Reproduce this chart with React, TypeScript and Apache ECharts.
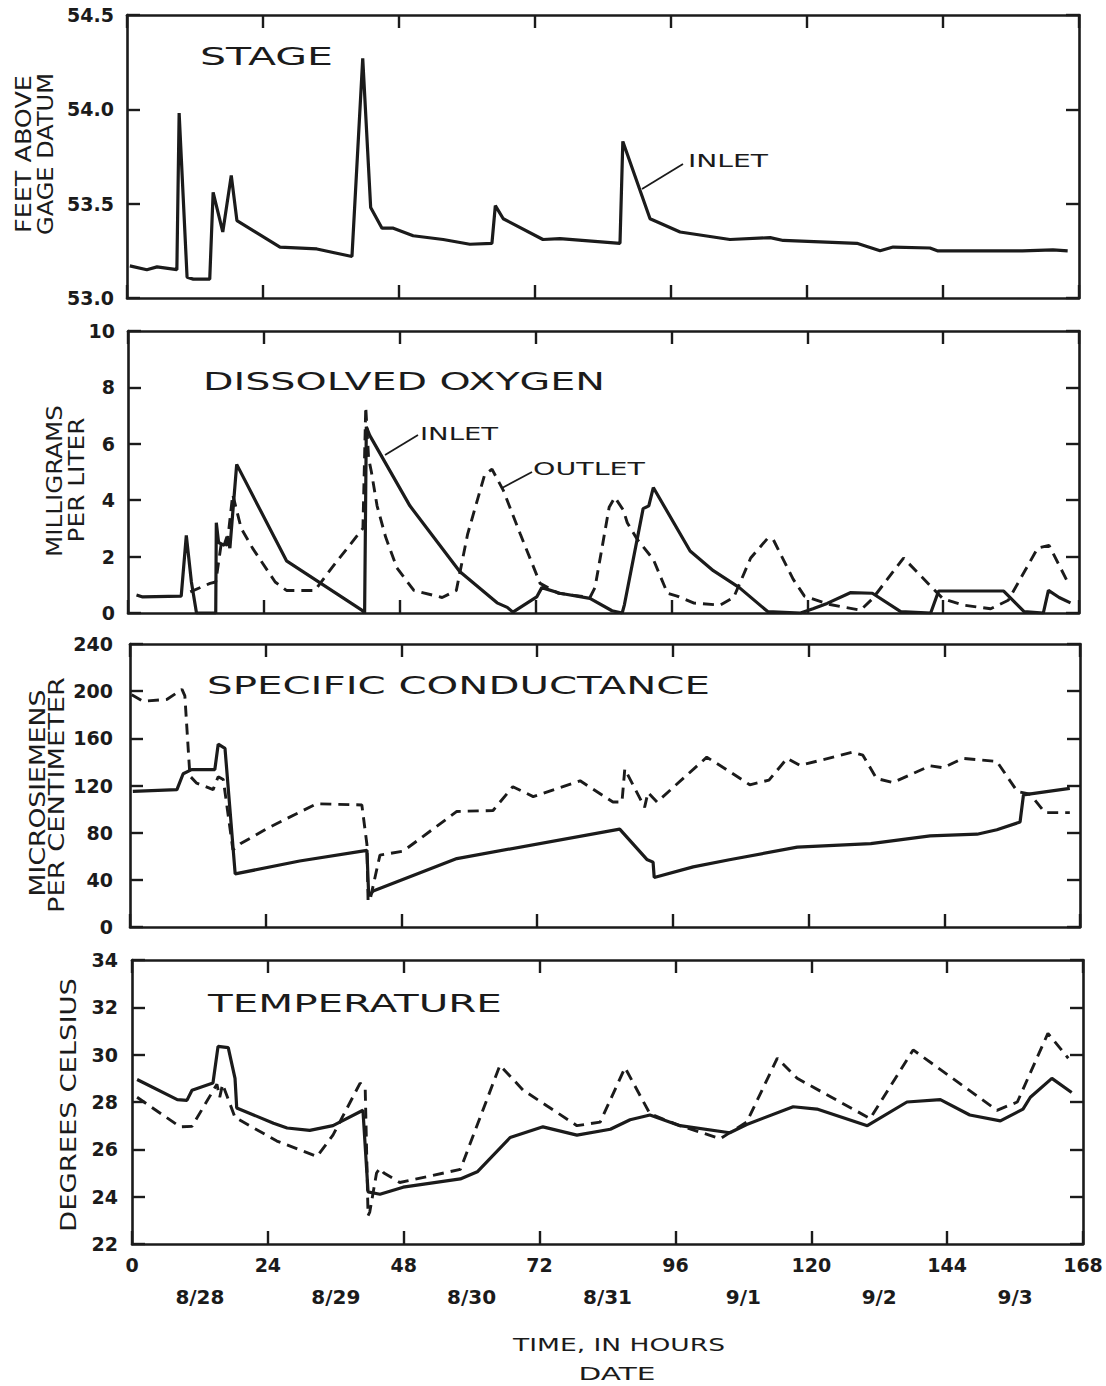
import React, { useEffect, useRef } from "react";
import * as echarts from "echarts";

// ---------- data (hours since start, value) ----------
const hourTicks = [0, 24, 48, 72, 96, 120, 144, 168];
const dateLabels = ["8/28", "8/29", "8/30", "8/31", "9/1", "9/2", "9/3"];

const stageInlet: [number, number][] = [
  [0.5, 53.17], [3.5, 53.15], [5.3, 53.165], [8.8, 53.15], [9.2, 53.98], [10.6, 53.11], [11.7, 53.1],
  [14.6, 53.1], [15.2, 53.56], [16.9, 53.35], [18.4, 53.65], [19.4, 53.41], [27, 53.27], [33.5, 53.26],
  [39.7, 53.22], [41.6, 54.27], [43, 53.48], [45, 53.37], [47, 53.37], [50.5, 53.33], [55.8, 53.31],
  [60.5, 53.285], [64.4, 53.29], [65, 53.49], [66.4, 53.42], [73.4, 53.31], [76.4, 53.315], [87, 53.29],
  [87.5, 53.83], [92.3, 53.42], [97.6, 53.35], [106.4, 53.31], [113.5, 53.32], [115.8, 53.305],
  [128.8, 53.29], [132.9, 53.25], [135.2, 53.27], [141.7, 53.265], [143, 53.25], [158, 53.25],
  [163.4, 53.255], [166, 53.25],
];

const doInlet: [number, number][] = [
  [1.5, 0.64], [2.6, 0.57], [9.4, 0.6], [10.3, 2.75], [11.2, 1.1], [12.1, 0], [15.5, 0], [15.6, 3.2],
  [16, 2.5], [17, 2.4], [17.5, 2.7], [18, 2.3], [19.2, 5.27], [28, 1.85], [41.3, 0.1], [41.8, 0],
  [42.1, 6.6], [42.7, 6.3], [49.8, 3.8], [58.6, 1.47], [65.2, 0.36], [67, 0.2], [68, 0.03], [72.2, 0.57],
  [73.1, 0.9], [76.3, 0.7], [81.6, 0.52], [85.5, 0.08], [87.3, 0], [87.7, 0.3], [91, 3.7], [92, 3.8],
  [92.8, 4.45], [99.3, 2.2], [103.4, 1.5], [108, 0.9], [113, 0.05], [118.8, 0], [121, 0.15],
  [123.5, 0.34], [127.6, 0.72], [131.5, 0.7], [136.5, 0.05], [141.8, 0], [143.2, 0.78], [154.7, 0.78],
  [158.3, 0.05], [161.7, 0], [162.6, 0.8], [164.5, 0.55], [166.5, 0.36],
];

const doOutlet: [number, number][] = [
  [11, 0.75], [14.5, 1.05], [15.5, 1.1], [16.5, 2.5], [17.5, 2.4], [18.5, 4.2], [19, 3.8], [20, 3.0],
  [22, 2.3], [26, 1.1], [28, 0.8], [33, 0.8], [36, 1.6], [41.5, 3.0], [42, 7.3], [42.5, 5.5], [43, 5.0],
  [44, 3.8], [45.5, 2.7], [47.5, 1.6], [50.5, 0.8], [55.5, 0.55], [58, 0.8], [60, 2.8], [63, 4.9],
  [64.3, 5.1], [66.3, 4.35], [69.3, 2.8], [72.8, 1.05], [76, 0.7], [81.6, 0.55], [82.5, 0.9], [85, 3.75],
  [86, 4.1], [87.5, 3.65], [88.2, 3.2], [90, 2.6], [92.8, 1.9], [95.3, 0.7], [97, 0.6], [100, 0.35],
  [104.6, 0.28], [107, 0.55], [110, 1.95], [113, 2.65], [114, 2.6], [117.5, 1.2], [119.5, 0.6],
  [124, 0.3], [129.4, 0.1], [131.5, 0.5], [137, 1.95], [141.8, 0.95], [144, 0.5], [147.5, 0.28],
  [152.4, 0.15], [155.5, 0.45], [160.7, 2.3], [162.7, 2.4], [166, 1.1],
];

const scInlet: [number, number][] = [
  [0.5, 115], [8.3, 116.5], [9.4, 130], [10.9, 133.5], [15, 133.5], [15.6, 155], [16.8, 151.5],
  [18.6, 45], [30, 56], [41.9, 65], [42.2, 28], [42.4, 27], [43, 30.5], [57.8, 58], [86.6, 83],
  [91.4, 57.3], [92.5, 55], [92.7, 42], [99.6, 51], [106, 57], [118, 67.7], [131, 70.7], [141.5, 77.3],
  [149.8, 78.7], [153.3, 82.5], [157.4, 89], [158, 112], [166.2, 117.5],
];

const scOutlet: [number, number][] = [
  [0.3, 197], [2.3, 191.5], [6.5, 193], [9.2, 201.5], [9.7, 196], [10.6, 128], [11.8, 122],
  [14.7, 116.5], [15.6, 127.5], [16.5, 125], [18.2, 65.5], [19.5, 70.5], [24.2, 83.5], [33, 104.5],
  [41, 103.5], [41.9, 70], [42.1, 22], [42.4, 22], [44.2, 61], [48.3, 64.3], [57.8, 98], [64.2, 98.8],
  [67.7, 119], [71.3, 110.6], [79.6, 124], [85.4, 106], [87, 106], [87.5, 134], [91, 101.5],
  [91.6, 114], [93.2, 106], [102, 144], [106, 132], [109.6, 120.6], [113, 124.6], [116.2, 143],
  [118.5, 137], [127.8, 148.3], [129.6, 145.7], [132, 126], [134.9, 122.5], [141.5, 136.7],
  [143.8, 135], [147.3, 143], [153.3, 140.4], [156.9, 115], [159.2, 112.6], [161.8, 97], [166.2, 97],
];

const tempInlet: [number, number][] = [
  [0.9, 28.95], [8, 28.1], [9.7, 28.07], [10.6, 28.5], [14.3, 28.8], [15.2, 30.35], [17, 30.3],
  [18.2, 29.0], [18.5, 27.75], [25, 27.1], [27.4, 26.9], [31.4, 26.8], [35.5, 27.0], [40.8, 27.65],
  [41.7, 24.2], [43.8, 24.1], [47.9, 24.4], [58, 24.75], [61, 25.05], [66.8, 26.5], [72.6, 26.95],
  [78.6, 26.6], [84.5, 26.85], [88, 27.25], [91.5, 27.45], [96.8, 27.0], [105.6, 26.7], [108.6, 27.05],
  [116.8, 27.8], [121, 27.7], [129.9, 27.0], [136.9, 28.0], [142.8, 28.1], [148, 27.45], [153.4, 27.2],
  [157.4, 27.7], [158.7, 28.2], [162.5, 29.0], [166, 28.4],
];

const tempOutlet: [number, number][] = [
  [0.9, 28.2], [8.5, 26.95], [10.6, 26.97], [15, 28.75], [15.5, 28.2], [16, 28.75], [18.2, 27.35],
  [25.6, 26.35], [32.7, 25.7], [35.5, 26.6], [40.3, 28.8], [41.2, 28.55], [41.7, 23.2], [42, 23.35],
  [43.2, 25.0], [43.8, 25.2], [44.5, 25.0], [47.3, 24.6], [58, 25.15], [65, 29.55], [69.1, 28.5],
  [78.6, 27.0], [82.7, 27.15], [87.1, 29.45], [91.5, 27.5], [96.8, 27.0], [103.9, 26.45], [108.6, 27.15],
  [114, 29.85], [117.5, 29.0], [130.4, 27.3], [138, 30.2], [152.8, 27.65], [156.4, 28.0], [161.8, 30.9],
  [165.4, 29.85],
];

// ---------- layout / style ----------
const FONT = '"DejaVu Sans", "Liberation Sans", sans-serif';
const INK = "#1b1b1b";

const grids = [
  { left: 127, top: 15, width: 952, height: 283 },
  { left: 128, top: 331, width: 951, height: 282 },
  { left: 130, top: 644, width: 950, height: 283 },
  { left: 132, top: 960, width: 951, height: 284 },
];

const yScales = [
  { min: 53, max: 54.5, interval: 0.5, digits: 1, margin: 13 },
  { min: 0, max: 10, interval: 2, digits: 0, margin: 13 },
  { min: 0, max: 240, interval: 40, digits: 0, margin: 17 },
  { min: 22, max: 34, interval: 2, digits: 0, margin: 14 },
];

type Lbl = { text: string; cx: number; cy: number; w: number; size: number; rot?: boolean };
const labels: Lbl[] = [
  { text: "STAGE", cx: 266.5, cy: 56, w: 133, size: 25 },
  { text: "DISSOLVED OXYGEN", cx: 404, cy: 382, w: 402, size: 24 },
  { text: "SPECIFIC CONDUCTANCE", cx: 458.5, cy: 686, w: 503, size: 24 },
  { text: "TEMPERATURE", cx: 355, cy: 1003, w: 294, size: 25 },
  { text: "INLET", cx: 728, cy: 161, w: 80, size: 18 },
  { text: "INLET", cx: 459, cy: 433, w: 78, size: 18 },
  { text: "OUTLET", cx: 589, cy: 469, w: 112, size: 18 },
  { text: "TIME, IN HOURS", cx: 619, cy: 1345, w: 212, size: 18 },
  { text: "DATE", cx: 617, cy: 1374, w: 77, size: 18 },
  { text: "FEET ABOVE", cx: 24, cy: 154, w: 158, size: 22, rot: true },
  { text: "GAGE DATUM", cx: 45, cy: 154, w: 162, size: 22, rot: true },
  { text: "MILLIGRAMS", cx: 54, cy: 481, w: 152, size: 22, rot: true },
  { text: "PER LITER", cx: 76, cy: 480, w: 125, size: 22, rot: true },
  { text: "MICROSIEMENS", cx: 38, cy: 793, w: 207, size: 21, rot: true },
  { text: "PER CENTIMETER", cx: 57, cy: 795, w: 236, size: 21, rot: true },
  { text: "DEGREES CELSIUS", cx: 68, cy: 1105, w: 254, size: 22, rot: true },
];

const leaders = [
  [683, 164, 642, 189],
  [418, 435, 385, 455],
  [532, 472, 502, 488],
];

function measure(text: string, size: number): number {
  const ctx = document.createElement("canvas").getContext("2d");
  if (!ctx) return text.length * size * 0.65;
  ctx.font = `normal ${size}px ${FONT}`;
  return ctx.measureText(text).width || text.length * size * 0.65;
}

export default function App() {
  const ref = useRef<HTMLDivElement>(null);

  useEffect(() => {
    if (!ref.current) return;
    const chart = echarts.init(ref.current, undefined, { renderer: "svg" });

    const lineAxis = { show: true, onZero: false, lineStyle: { color: INK, width: 2.6 } };
    const tick = { show: true, inside: true, length: 13, lineStyle: { color: INK, width: 2.4 } };
    const tickLabel = (margin: number, extra: any = {}) => ({
      fontFamily: FONT,
      fontWeight: "bold",
      fontSize: 19,
      color: INK,
      margin,
      ...extra,
    });

    const xAxes: any[] = [];
    const yAxes: any[] = [];
    grids.forEach((g, i) => {
      xAxes.push({
        type: "value",
        gridIndex: i,
        position: "bottom",
        min: hourTicks[0],
        max: hourTicks[hourTicks.length - 1],
        interval: 24,
        axisLine: lineAxis,
        axisTick: tick,
        splitLine: { show: false },
        axisLabel: i === 3 ? tickLabel(11) : { show: false },
      });
      xAxes.push({
        type: "value",
        gridIndex: i,
        position: "top",
        min: hourTicks[0],
        max: hourTicks[hourTicks.length - 1],
        interval: 24,
        axisLine: lineAxis,
        axisTick: tick,
        splitLine: { show: false },
        axisLabel: { show: false },
      });
      const s = yScales[i];
      yAxes.push({
        type: "value",
        gridIndex: i,
        position: "left",
        min: s.min,
        max: s.max,
        interval: s.interval,
        axisLine: lineAxis,
        axisTick: tick,
        splitLine: { show: false },
        axisLabel: tickLabel(s.margin, {
          formatter: (v: number) => v.toFixed(s.digits),
        }),
      });
      yAxes.push({
        type: "value",
        gridIndex: i,
        position: "right",
        min: s.min,
        max: s.max,
        interval: s.interval,
        axisLine: lineAxis,
        axisTick: tick,
        splitLine: { show: false },
        axisLabel: { show: false },
      });
    });
    // date axis under the bottom panel
    xAxes.push({
      type: "category",
      gridIndex: 3,
      position: "bottom",
      data: dateLabels,
      boundaryGap: true,
      axisLine: { show: false },
      axisTick: { show: false },
      splitLine: { show: false },
      axisLabel: tickLabel(43, { fontSize: 20, interval: 0 }),
    });

    const solid = { color: INK, width: 3.2, type: "solid" as const };
    const dashed = { color: INK, width: 2.9, type: [11, 7] as any };
    const mk = (name: string, data: [number, number][], panel: number, style: any) => ({
      name,
      type: "line",
      xAxisIndex: panel * 2,
      yAxisIndex: panel * 2,
      data,
      showSymbol: false,
      symbol: "none",
      lineStyle: style,
      itemStyle: { color: INK },
      silent: true,
      z: 3,
    });

    const graphic: any[] = labels.map((l) => ({
      type: "text",
      x: l.cx,
      y: l.cy,
      rotation: l.rot ? Math.PI / 2 : 0,
      scaleX: l.w / measure(l.text, l.size),
      silent: true,
      style: {
        text: l.text,
        fontSize: l.size,
        fontFamily: FONT,
        fill: INK,
        align: "center",
        verticalAlign: "middle",
      },
    }));
    leaders.forEach(([x1, y1, x2, y2]) =>
      graphic.push({
        type: "line",
        silent: true,
        shape: { x1, y1, x2, y2 },
        style: { stroke: INK, lineWidth: 1.8 },
      })
    );

    chart.setOption({
      animation: false,
      backgroundColor: "#ffffff",
      grid: grids.map((g) => ({ ...g, containLabel: false })),
      xAxis: xAxes,
      yAxis: yAxes,
      series: [
        mk("Stage inlet", stageInlet, 0, solid),
        mk("DO inlet", doInlet, 1, solid),
        mk("DO outlet", doOutlet, 1, dashed),
        mk("SC inlet", scInlet, 2, solid),
        mk("SC outlet", scOutlet, 2, dashed),
        mk("Temp inlet", tempInlet, 3, solid),
        mk("Temp outlet", tempOutlet, 3, dashed),
      ],
      graphic,
    });

    return () => chart.dispose();
  }, []);

  return (
    <div
      ref={ref}
      style={{ position: "absolute", left: 0, top: 0, width: 1106, height: 1386, background: "#fff" }}
    />
  );
}
